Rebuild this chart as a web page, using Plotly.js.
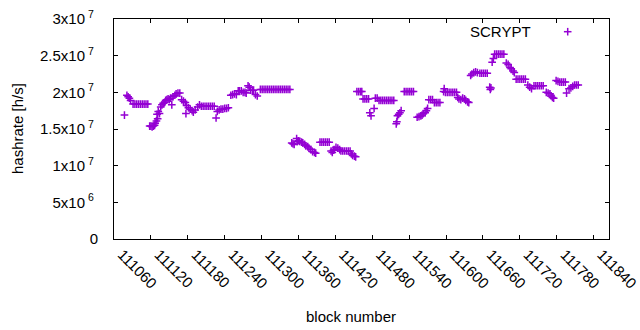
<!DOCTYPE html>
<html>
<head>
<meta charset="utf-8">
<script src="https://cdn.plot.ly/plotly-3.0.1.min.js"></script>
<style>html,body{margin:0;padding:0;background:#fff;}#chart{width:640px;height:330px;}</style>
</head>
<body>
<div id="chart"></div>
<script>
const blocks = [
111077,111081,111083,111085,111087,
111091,111094,111097,111100,111103,111106,111109,111112,111115,
111118,111120,111122,111124,111126,111127,111129,
111130,111131,111132,111134,111136,111138,111140,111142,
111144,111146,111148,111150,111152,111154,111156,111159,
111161,111164,111167,111170,111173,111176,111177,111178,111181,
111184,111187,111189,111192,111196,111199,111202,
111205,111208,111211,111214,111217,111220,111223,111226,
111228,111231,111234,111237,111240,111243,111246,
111250,111253,111256,111259,111262,111264,111267,111270,111273,111275,
111278,111280,111282,111285,111287,111290,111293,
111298,111301,111304,111307,111310,111313,111316,111319,111322,111325,111328,111331,111334,111337,111340,111343,111346,
111349,111351,111353,111357,111358,111360,111362,111365,111367,
111370,111372,111375,111377,111380,111383,111386,111388,
111395,111398,111401,111404,111407,111410,
111413,111415,111417,111418,111421,111424,111427,
111429,111432,111435,111438,111441,111444,
111446,111448,111451,111453,
111455,111458,111461,111463,111465,111468,111471,111474,
111476,111478,111483,111485,111488,
111491,111494,111497,111500,111503,111506,111509,111512,111515,
111519,111520,111521,111523,111525,111527,
111532,111535,111538,111541,111544,111547,
111553,111556,111559,111561,111563,111566,111568,111570,
111572,111575,111578,111581,111584,111587,111590,
111596,111597,111599,111602,111605,111608,111611,111614,111617,
111619,111621,111624,111627,111630,111632,111635,111637,
111640,111642,111645,111648,111651,
111655,111658,111661,111664,111667,
111671,111672,111673,111675,111677,
111679,111682,111685,111688,111691,111694,
111698,111701,111704,111706,111709,111711,
111714,111717,111720,111723,111726,111729,
111733,111736,111739,
111743,111746,111749,111752,111755,111758,
111763,111766,111769,111771,111773,111775,
111779,111782,111785,111788,111791,111794,111796,
111800,111803,111806,111809,111812,111815
];
const hashrate = [
1.69e7,1.96e7,1.94e7,1.92e7,1.89e7,
1.84e7,1.84e7,1.84e7,1.84e7,1.84e7,1.84e7,1.84e7,1.84e7,1.84e7,
1.54e7,1.54e7,1.53e7,1.54e7,1.55e7,1.58e7,1.61e7,
1.70e7,1.64e7,1.74e7,1.71e7,1.80e7,1.83e7,1.85e7,1.86e7,
1.89e7,1.90e7,1.91e7,1.90e7,1.92e7,1.83e7,1.94e7,1.96e7,
1.98e7,1.99e7,1.99e7,1.90e7,1.88e7,1.86e7,1.71e7,1.82e7,1.79e7,
1.77e7,1.75e7,1.73e7,1.76e7,1.80e7,1.83e7,1.81e7,
1.81e7,1.81e7,1.81e7,1.81e7,1.81e7,1.81e7,1.81e7,1.65e7,
1.74e7,1.76e7,1.77e7,1.77e7,1.78e7,1.78e7,1.79e7,
1.96e7,1.97e7,1.98e7,1.97e7,2.02e7,2.02e7,2.02e7,2.00e7,2.00e7,1.99e7,
2.09e7,2.07e7,2.03e7,2.03e7,2.03e7,1.97e7,1.95e7,
2.04e7,2.04e7,2.04e7,2.04e7,2.04e7,2.04e7,2.04e7,2.04e7,2.04e7,2.04e7,2.04e7,2.04e7,2.04e7,2.04e7,2.04e7,2.04e7,2.04e7,
1.31e7,1.30e7,1.29e7,1.37e7,1.33e7,1.34e7,1.33e7,1.32e7,1.31e7,
1.29e7,1.27e7,1.26e7,1.24e7,1.22e7,1.19e7,1.18e7,1.17e7,
1.32e7,1.32e7,1.32e7,1.32e7,1.32e7,1.32e7,
1.20e7,1.18e7,1.21e7,1.22e7,1.25e7,1.24e7,1.22e7,
1.20e7,1.20e7,1.20e7,1.20e7,1.20e7,1.20e7,
1.16e7,1.14e7,1.13e7,1.12e7,
2.01e7,2.01e7,2.01e7,2.01e7,1.91e7,1.91e7,1.91e7,1.91e7,
1.72e7,1.68e7,1.78e7,1.92e7,1.92e7,
1.89e7,1.89e7,1.89e7,1.89e7,1.89e7,1.89e7,1.89e7,1.89e7,1.89e7,
1.57e7,1.60e7,1.68e7,1.70e7,1.72e7,1.75e7,
2.01e7,2.01e7,2.01e7,2.01e7,2.01e7,2.01e7,
1.66e7,1.67e7,1.68e7,1.69e7,1.71e7,1.72e7,1.75e7,1.78e7,
1.90e7,1.90e7,1.90e7,1.86e7,1.86e7,1.86e7,1.86e7,
2.01e7,2.05e7,2.00e7,2.00e7,2.00e7,2.00e7,2.00e7,2.00e7,2.00e7,
1.93e7,1.91e7,1.90e7,1.92e7,1.91e7,1.89e7,1.87e7,1.86e7,
2.23e7,2.25e7,2.27e7,2.28e7,2.27e7,
2.26e7,2.26e7,2.26e7,2.26e7,2.26e7,
2.07e7,2.04e7,2.06e7,2.41e7,2.46e7,
2.52e7,2.52e7,2.52e7,2.52e7,2.52e7,2.52e7,
2.40e7,2.38e7,2.34e7,2.32e7,2.29e7,2.27e7,
2.18e7,2.18e7,2.18e7,2.18e7,2.18e7,2.18e7,
2.10e7,2.07e7,2.05e7,
2.09e7,2.09e7,2.09e7,2.09e7,2.09e7,2.09e7,
2.00e7,1.99e7,1.98e7,1.95e7,1.93e7,1.92e7,
2.16e7,2.15e7,2.14e7,2.14e7,2.14e7,2.14e7,1.99e7,
2.05e7,2.06e7,2.08e7,2.10e7,2.10e7,2.10e7
];
const xTickVals = [111060,111120,111180,111240,111300,111360,111420,111480,111540,111600,111660,111720,111780,111840];
const xTickText = ["111060","111120","111180","111240","111300","111360","111420","111480","111540","111600","111660","111720","111780","111840"];
const yTickVals = [0,5e6,1e7,1.5e7,2e7,2.5e7,3e7];
const yTickText = ["0","5x10<sup> 6</sup>\u00a0","1x10<sup> 7</sup>\u00a0","1.5x10<sup> 7</sup>\u00a0","2x10<sup> 7</sup>\u00a0","2.5x10<sup> 7</sup>\u00a0","3x10<sup> 7</sup>\u00a0"];
const seriesName = "SCRYPT";

const color = "#9400D3";
const font = {family: "Liberation Sans, Arial, sans-serif", size: 15, color: "#000"};

const trace = {
  x: blocks, y: hashrate, type: "scatter", mode: "markers", name: seriesName,
  marker: {symbol: "cross-thin-open", size: 5.5, color: color, line: {color: color, width: 1.5}},
  showlegend: false, hoverinfo: "x+y"
};

const L = 114, R = 609, T = 19, B = 239;
const pw = R - L, ph = B - T;
const px = v => (v - L) / pw;
const py = v => (B - v) / ph;
const lx = 567.7, ly = 31.7, arm = 3.8;

const layout = {
  width: 640, height: 330,
  margin: {l: L, r: 640 - R, t: T, b: 330 - B, pad: 0},
  paper_bgcolor: "#fff", plot_bgcolor: "#fff",
  font: font,
  xaxis: {
    range: [111060, 111865], tickvals: xTickVals, ticktext: xTickText, tickangle: 45,
    ticks: "inside", ticklen: 4, tickwidth: 1, tickcolor: "#000",
    showline: true, linecolor: "#000", linewidth: 1, mirror: "allticks",
    showgrid: false, zeroline: false, tickfont: font, ticklabelstandoff: 0, ticklabelshift: 8,
    ticklabeloverflow: "allow"
  },
  yaxis: {
    range: [0, 3e7], tickvals: yTickVals, ticktext: yTickText,
    ticks: "inside", ticklen: 4, tickwidth: 1, tickcolor: "#000",
    showline: true, linecolor: "#000", linewidth: 1, mirror: "allticks",
    showgrid: false, zeroline: false, tickfont: font, ticklabelstandoff: 12
  },
  annotations: [
    {text: "block number", xref: "paper", yref: "paper", x: px(350.5), y: py(316), xanchor: "center", yanchor: "middle", showarrow: false, font: font},
    {text: "hashrate [h/s]", xref: "paper", yref: "paper", x: px(17), y: 0.5, xanchor: "center", yanchor: "middle", textangle: -90, showarrow: false, font: font},
    {text: seriesName, xref: "paper", yref: "paper", x: px(533), y: py(ly), xanchor: "right", yanchor: "middle", showarrow: false, font: font}
  ],
  shapes: [
    {type: "line", xref: "paper", yref: "paper", x0: px(lx - arm), x1: px(lx + arm), y0: py(ly), y1: py(ly), line: {color: color, width: 1.5}},
    {type: "line", xref: "paper", yref: "paper", x0: px(lx), x1: px(lx), y0: py(ly - arm), y1: py(ly + arm), line: {color: color, width: 1.5}}
  ]
};

Plotly.newPlot("chart", [trace], layout, {staticPlot: true, displayModeBar: false});
</script>
</body>
</html>
